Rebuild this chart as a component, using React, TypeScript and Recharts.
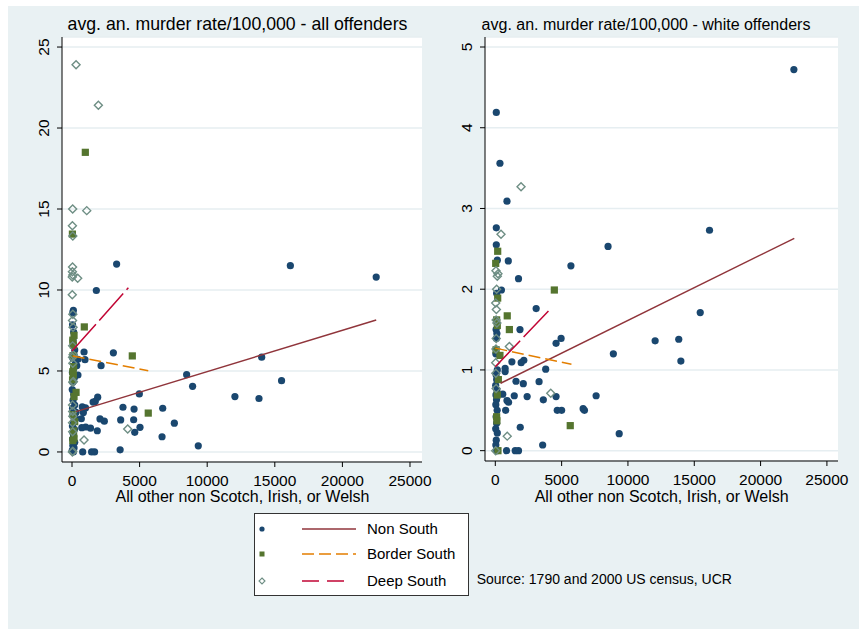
import { ScatterChart, Scatter, XAxis, YAxis, CartesianGrid } from "recharts"

const FONT = "'Liberation Sans', Arial, Helvetica, sans-serif"
const BG = "#e9f1f3"
const GRID = "#e6eef1"
const NAVY = "#1a476f"
const GREEN = "#55752f"
const TEAL = "#6e8e84"
const MAROON = "#90353b"
const ORANGE = "#e37e00"
const CRANBERRY = "#c10534"

type Pt = [number, number]

const xTicks = [0, 5000, 10000, 15000, 20000, 25000]
const allYTicks = [0, 5, 10, 15, 20, 25]
const whiteYTicks = [0, 1, 2, 3, 4, 5]

// all offenders
const allNonSouth: Pt[] = [
  [22500, 10.8], [16150, 11.5], [15500, 4.4], [14030, 5.85], [13830, 3.3], [12050, 3.42],
  [9340, 0.38], [8920, 4.05], [8480, 4.77], [7570, 1.78], [6710, 2.7], [6660, 0.94],
  [5030, 1.52], [4980, 3.58], [4640, 1.21], [4590, 2.65], [4560, 1.99], [3770, 2.76],
  [3600, 1.98], [3560, 0.13], [3300, 11.6], [3060, 6.12], [2390, 1.9], [2150, 5.33],
  [2070, 2.04], [1900, 3.38], [1870, 1.31], [1800, 9.97], [1720, 3.12], [1560, 3.08],
  [1670, 0], [1450, 0], [1370, 1.47], [1010, 1.54], [960, 5.7], [890, 6.17], [790, 0],
  [840, 2.43], [1000, 2.72], [760, 2.78], [720, 1.5], [690, 2.05], [440, 5.72], [440, 4.75],
  [350, 5.33], [300, 2.45],
  [100, 8.75], [60, 8.6], [40, 7.85], [120, 7.4], [80, 6.9], [200, 6.3], [150, 6.0],
  [60, 5.8], [250, 5.55], [100, 5.1], [30, 4.9], [180, 4.6], [60, 4.3], [20, 3.85],
  [130, 3.55], [80, 3.2], [200, 2.9], [40, 2.7], [150, 2.5], [60, 2.25], [250, 2.1],
  [100, 1.85], [30, 1.6], [180, 1.4], [80, 1.15], [120, 0.95], [40, 0.8], [200, 0.6],
  [60, 0.4], [150, 0.25], [20, 0.1], [100, 0],
]
const allBorderSouth: Pt[] = [
  [985, 18.5], [30, 13.45], [910, 7.72], [4460, 5.93], [5640, 2.4], [150, 7.2], [60, 6.9],
  [100, 6.6], [80, 5.95], [120, 5.27], [60, 4.95], [100, 4.75], [40, 4.45], [300, 3.68],
  [150, 3.42], [200, 1.87], [120, 1.3], [150, 0.85], [60, 0.7], [80, 2.3],
]
const allDeepSouth: Pt[] = [
  [300, 23.9], [1950, 21.4], [50, 15.0], [1090, 14.9], [30, 13.97], [60, 13.33], [40, 11.42],
  [30, 11.12], [60, 10.92], [20, 10.8], [420, 10.72], [20, 9.7], [60, 8.5], [40, 8.12],
  [80, 7.7], [50, 6.55], [80, 6.0], [40, 5.85], [60, 5.47], [100, 4.35], [60, 4.3], [40, 2.9],
  [50, 2.5], [60, 2.2], [40, 1.8], [4120, 1.42], [890, 0.74], [50, 1.25], [30, 0], [60, 0.05],
]
const allFitNonSouth: Pt[] = [[300, 2.49], [22500, 8.15]]
const allFitBorder: Pt[] = [[50, 5.93], [5640, 5.02]]
const allFitDeep: Pt[] = [[0, 6.23], [4170, 10.14]]

// white offenders
const whiteNonSouth: Pt[] = [
  [22510, 4.72], [16150, 2.73], [15450, 1.71], [13990, 1.11], [13830, 1.38], [12050, 1.36],
  [9340, 0.21], [8900, 1.2], [8500, 2.53], [7600, 0.68], [6720, 0.5], [6620, 0.52],
  [5700, 2.29], [4960, 1.39], [5000, 0.5], [4670, 0.5], [4580, 1.33], [4580, 0.67],
  [3800, 1.01], [3620, 0.63], [3570, 0.07], [3300, 0.855], [3080, 1.76], [2400, 0.67],
  [2150, 1.12], [2110, 0.83], [1950, 1.09], [1860, 1.5], [1880, 0.29], [1750, 2.13],
  [1750, 0], [1560, 0.86], [1500, 0], [1430, 0.68], [1250, 1.1], [1000, 0.6], [980, 2.35],
  [880, 0.62], [880, 3.09], [850, 0], [740, 1.02], [740, 0.98], [780, 0.5], [560, 0.7],
  [460, 1.99], [350, 3.56], [75, 4.19], [75, 2.76], [75, 2.55], [150, 2.36],
  [100, 1.95], [60, 1.5], [120, 1.45], [80, 1.39], [40, 1.2], [150, 1.0], [60, 0.94],
  [100, 0.88], [30, 0.81], [120, 0.75], [50, 0.69], [90, 0.63], [40, 0.57], [140, 0.5],
  [60, 0.42], [100, 0.34], [30, 0.27], [150, 0.22], [70, 0.13], [40, 0.07], [110, 0],
]
const whiteBorderSouth: Pt[] = [
  [180, 2.47], [30, 2.32], [4450, 1.99], [180, 1.89], [900, 1.67], [1060, 1.5], [350, 1.18],
  [5650, 0.31], [100, 1.62], [150, 1.55], [230, 0.88], [150, 0.69], [100, 0.42], [120, 0.37],
  [200, 0], [60, 1.25],
]
const whiteDeepSouth: Pt[] = [
  [1940, 3.27], [430, 2.68], [50, 2.23], [200, 2.19], [150, 2.16], [100, 2.0], [30, 1.83],
  [80, 1.75], [60, 1.62], [120, 1.58], [70, 1.39], [50, 1.26], [1060, 1.29], [30, 1.09],
  [40, 0.96], [60, 0.77], [4180, 0.71], [900, 0.18], [30, 0],
]
const whiteFitNonSouth: Pt[] = [[400, 0.835], [22540, 2.63]]
const whiteFitBorder: Pt[] = [[0, 1.27], [5740, 1.07]]
const whiteFitDeep: Pt[] = [[0, 1.04], [4180, 1.76]]

const toObj = (pts: Pt[]) => pts.map(([x, y]) => ({ x, y }))

const Dot = (p: any) => <circle cx={p.cx} cy={p.cy} r={3.6} fill={NAVY} />
const Square = (p: any) => (
  <rect x={p.cx - 3.6} y={p.cy - 3.6} width={7.2} height={7.2} fill={GREEN} />
)
const Diamond = (p: any) => (
  <path
    d={`M${p.cx},${p.cy - 4} L${p.cx + 4},${p.cy} L${p.cx},${p.cy + 4} L${p.cx - 4},${p.cy} Z`}
    fill="none"
    stroke={TEAL}
    strokeWidth={1.4}
  />
)
const NoShape = () => <g />

function VTick(props: any) {
  const { x, y, payload } = props
  return (
    <text
      x={x}
      y={y}
      transform={`rotate(-90 ${x} ${y})`}
      textAnchor="middle"
      fontSize={15.5}
      fill="#000"
      fontFamily={FONT}
    >
      {payload.value}
    </text>
  )
}

interface PanelProps {
  width: number
  left: number
  right: number
  bottom: number
  yWidth: number
  xDomain: [number, number]
  yDomain: [number, number]
  yTicks: number[]
  nonSouth: Pt[]
  border: Pt[]
  deep: Pt[]
  fitNon: Pt[]
  fitBorder: Pt[]
  fitDeep: Pt[]
}

function Panel(p: PanelProps) {
  return (
    <ScatterChart
      width={p.width}
      height={520}
      margin={{ top: 31, right: p.right, bottom: p.bottom, left: p.left }}
    >
      <CartesianGrid vertical={false} stroke={GRID} strokeWidth={1.5} fill="#ffffff" fillOpacity={1} />
      <XAxis
        type="number"
        dataKey="x"
        domain={p.xDomain}
        ticks={xTicks}
        allowDataOverflow
        interval={0}
        height={30}
        tickSize={5}
        tickMargin={8}
        axisLine={{ stroke: "#000" }}
        tickLine={{ stroke: "#000" }}
        tick={{ fontSize: 15.5, fill: "#000", fontFamily: FONT }}
      />
      <YAxis
        type="number"
        dataKey="y"
        domain={p.yDomain}
        ticks={p.yTicks}
        allowDataOverflow
        interval={0}
        width={p.yWidth}
        tickSize={5}
        tickMargin={8}
        axisLine={{ stroke: "#000" }}
        tickLine={{ stroke: "#000" }}
        tick={<VTick />}
      />
      <Scatter data={toObj(p.nonSouth)} shape={Dot} isAnimationActive={false} />
      <Scatter data={toObj(p.border)} shape={Square} isAnimationActive={false} />
      <Scatter data={toObj(p.deep)} shape={Diamond} isAnimationActive={false} />
      <Scatter
        data={toObj(p.fitNon)}
        line={{ stroke: MAROON, strokeWidth: 1.5 }}
        shape={NoShape}
        isAnimationActive={false}
      />
      <Scatter
        data={toObj(p.fitBorder)}
        line={{ stroke: ORANGE, strokeWidth: 1.5, strokeDasharray: "12 5" }}
        shape={NoShape}
        isAnimationActive={false}
      />
      <Scatter
        data={toObj(p.fitDeep)}
        line={{ stroke: CRANBERRY, strokeWidth: 1.5, strokeDasharray: "36 5" }}
        shape={NoShape}
        isAnimationActive={false}
      />
    </ScatterChart>
  )
}

function Legend() {
  const rows = [
    { label: "Non South", y: 16, dash: undefined, color: MAROON, mark: "dot", x2: 102 },
    { label: "Border South", y: 41, dash: "12 5", color: ORANGE, mark: "square", x2: 102 },
    { label: "Deep South", y: 68, dash: "17 8", color: CRANBERRY, mark: "diamond", x2: 98 },
  ]
  return (
    <svg width={216} height={84} style={{ position: "absolute", left: 246, top: 507 }}>
      <rect x={0.5} y={0.5} width={214} height={82} fill="#fff" stroke="#333" strokeWidth={1} />
      {rows.map((r) => (
        <g key={r.label}>
          {r.mark === "dot" && <circle cx={8} cy={r.y} r={2.6} fill={NAVY} />}
          {r.mark === "square" && <rect x={5.5} y={r.y - 2.5} width={5} height={5} fill={GREEN} />}
          {r.mark === "diamond" && (
            <path
              d={`M8,${r.y - 3} L11,${r.y} L8,${r.y + 3} L5,${r.y} Z`}
              fill="none"
              stroke={TEAL}
              strokeWidth={1.1}
            />
          )}
          <line x1={48} x2={r.x2} y1={r.y} y2={r.y} stroke={r.color} strokeWidth={1.5} strokeDasharray={r.dash} />
          <text x={113} y={r.y + 5.3} fontSize={15} fill="#000" fontFamily={FONT}>
            {r.label}
          </text>
        </g>
      ))}
    </svg>
  )
}

const textStyle = (left: number, top: number, size: number): React.CSSProperties => ({
  position: "absolute",
  left,
  top,
  transform: "translate(-50%, -50%)",
  fontFamily: FONT,
  fontSize: size,
  whiteSpace: "nowrap",
  color: "#000",
  lineHeight: 1,
})

export default function App() {
  return (
    <div
      style={{
        position: "absolute",
        left: 8,
        top: 6,
        width: 851,
        height: 623,
        background: BG,
        fontFamily: FONT,
      }}
    >
      <div style={textStyle(229.5, 19, 17.7)}>avg. an. murder rate/100,000 - all offenders</div>
      <div style={textStyle(638, 19, 16)}>avg. an. murder rate/100,000 - white offenders</div>

      <div style={{ position: "absolute", left: 0, top: 0 }}>
        <Panel
          width={430}
          left={14}
          right={16}
          bottom={34}
          yWidth={40}
          xDomain={[-740, 25888]}
          yDomain={[-0.62, 25.62]}
          yTicks={allYTicks}
          nonSouth={allNonSouth}
          border={allBorderSouth}
          deep={allDeepSouth}
          fitNon={allFitNonSouth}
          fitBorder={allFitBorder}
          fitDeep={allFitDeep}
        />
      </div>
      <div style={{ position: "absolute", left: 430, top: 0 }}>
        <Panel
          width={421}
          left={17}
          right={21}
          bottom={35}
          yWidth={30}
          xDomain={[-777, 25836]}
          yDomain={[-0.128, 5.124]}
          yTicks={whiteYTicks}
          nonSouth={whiteNonSouth}
          border={whiteBorderSouth}
          deep={whiteDeepSouth}
          fitNon={whiteFitNonSouth}
          fitBorder={whiteFitBorder}
          fitDeep={whiteFitDeep}
        />
      </div>

      <div style={textStyle(234.5, 491, 16)}>All other non Scotch, Irish, or Welsh</div>
      <div style={textStyle(653.7, 491, 16)}>All other non Scotch, Irish, or Welsh</div>

      <Legend />
      <div style={{ ...textStyle(468.7, 573, 14), transform: "translate(0, -50%)" }}>
        Source: 1790 and 2000 US census, UCR
      </div>
    </div>
  )
}
